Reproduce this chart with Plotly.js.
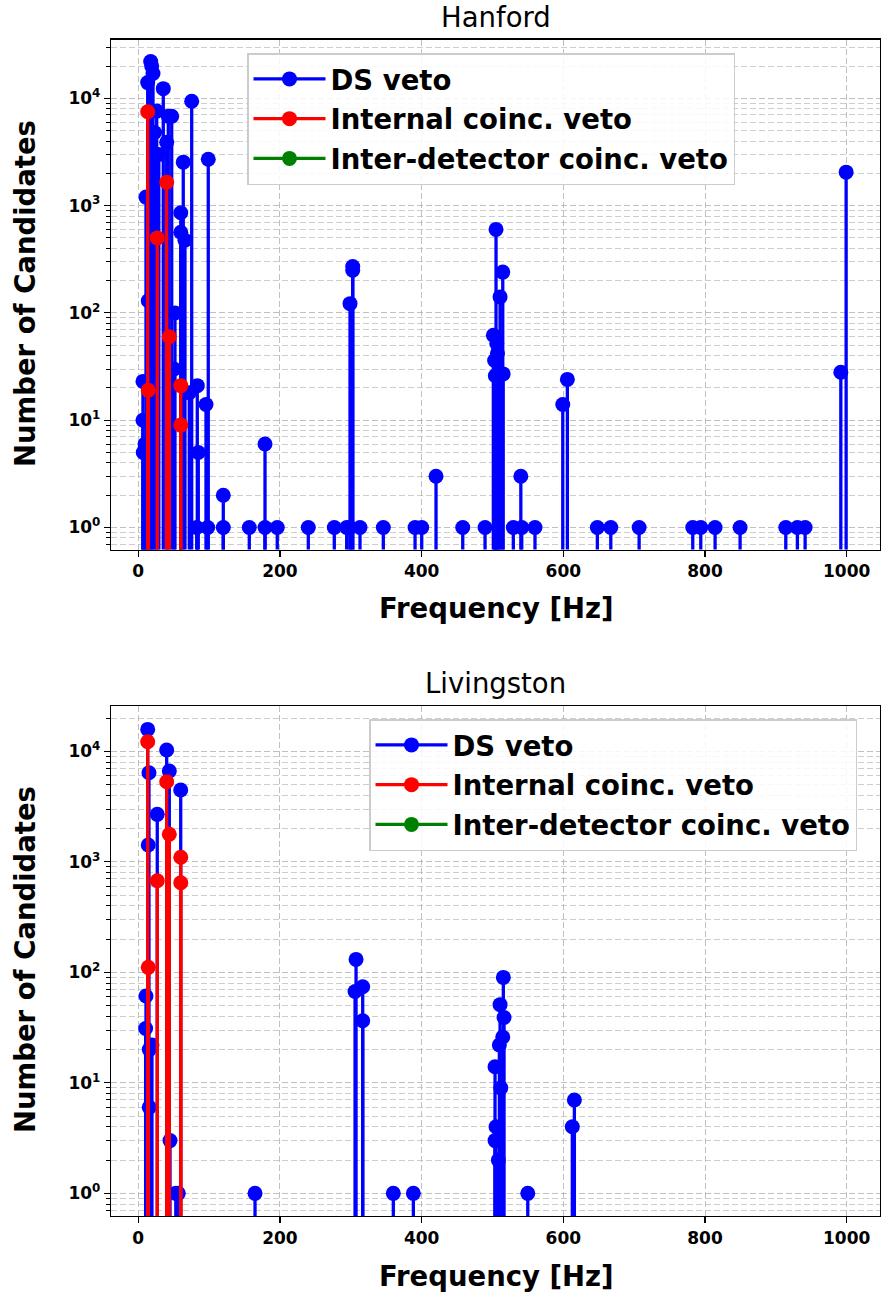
<!DOCTYPE html>
<html><head><meta charset="utf-8">
<script src="https://cdn.plot.ly/plotly-3.0.1.min.js"></script>
<style>html,body{margin:0;padding:0;background:#fff}#chart{width:881px;height:1293px}</style>
</head><body><div id="chart"></div>
<script>
// ---------- data ----------
const seriesNames = ['DS veto', 'Internal coinc. veto', 'Inter-detector coinc. veto'];
const seriesColors = ['blue', 'red', 'green'];
const panelTitles = ['Hanford', 'Livingston'];

const hanfordDsFreq = [6.6, 6.6, 7, 9.5, 10.9, 13.3, 14.1, 17.5, 18.9, 20.8, 23, 26, 29, 35.3, 40.1, 42.4, 47.2, 50.4, 51.8, 60, 60, 63.5, 65.9, 72, 75.4, 82.5, 83.3, 84.7, 95.6, 98, 98.8, 120, 120, 156.7, 178.9, 178.9, 196.2, 240, 276.7, 294.2, 298.9, 298.9, 302.7, 302.7, 313, 345.9, 390.7, 400.1, 420.3, 458, 489.5, 501.2, 503, 504, 505, 506, 507, 509.7, 510.7, 514.5, 515, 529.4, 540, 541.3, 560, 599.2, 605.7, 648, 667, 707, 782.7, 794, 814.2, 849.5, 914, 930.4, 941.3, 991.7, 999.2];
const hanfordDsCount = [23, 10, 5, 6, 1200, 14000, 130, 22000, 20000, 17000, 4800, 7600, 3000, 12300, 3900, 6800, 6800, 30, 100, 857, 565, 2540, 476, 18, 9400, 1, 21, 5, 14, 1, 2700, 2, 1, 1, 6, 1, 1, 1, 1, 1, 122, 1, 270, 250, 1, 1, 1, 1, 3, 1, 1, 62, 36, 26, 600, 52, 42, 27, 141, 240, 27, 1, 3, 1, 1, 14, 24, 1, 1, 1, 1, 1, 1, 1, 1, 1, 1, 28, 2050];
const hanfordIntFreq = [13.3, 14.1, 26.8, 40.1, 43.8, 60, 60];
const hanfordIntCount = [7500, 19, 500, 1650, 60, 21, 9];
const hanfordInterFreq = [];
const hanfordInterCount = [];

const livDsFreq = [10.4, 10.9, 13.3, 14.1, 15.1, 15.5, 15.5, 19.3, 26.8, 40.1, 43.8, 44.8, 53, 56.5, 59.9, 164.8, 306, 307.4, 316.8, 316.8, 360, 388.3, 503.6, 503.6, 505, 508.3, 509.7, 510.7, 511.7, 514.5, 515.3, 516.3, 549.8, 612.7, 615.6];
const livDsCount = [31, 61, 15800, 1420, 6400, 20, 6, 22, 2690, 10280, 6640, 3, 1, 1, 4465, 1, 67, 131, 74, 36.5, 1, 1, 14, 3, 4, 2, 22, 51, 9, 26, 90, 39, 1, 4, 7];
const livIntFreq = [13.3, 14.1, 26.8, 40.1, 43.8, 60, 60];
const livIntCount = [12200, 111, 674, 5310, 1775, 1099, 647];
const livInterFreq = [];
const livInterCount = [];

const xTickVals = [0, 200, 400, 600, 800, 1000];
const yTickVals = [1, 10, 100, 1000, 10000];
const yTickText = ['10<sup>0</sup>', '10<sup>1</sup>', '10<sup>2</sup>', '10<sup>3</sup>', '10<sup>4</sup>'];

// ---------- helpers ----------
const FONT = 'DejaVu Sans';
const BIG = 27.5;
const FLOOR = 0.1; // stems run down below the bottom of the log axis, like matplotlib's stem at 0
const minorVals = [];
for (let d = -1; d <= 4; d++) for (let k = 2; k <= 9; k++) minorVals.push(k * Math.pow(10, d));

function stemTrace(freq, count, idx, xa, ya, legend) {
  const x = [], y = [];
  freq.forEach((f, i) => { x.push(f, f, null); y.push(FLOOR, count[i], null); });
  if (!x.length) { x.push(null); y.push(null); }
  return {
    type: 'scatter', mode: 'lines+markers', x, y, xaxis: xa, yaxis: ya,
    name: seriesNames[idx], legend, legendgroup: legend + idx,
    connectgaps: false, cliponaxis: true,
    line: {color: seriesColors[idx], width: 3.3},
    marker: {color: seriesColors[idx], size: 15, symbol: 'circle'},
    hoverinfo: 'skip'
  };
}

function xAxis(anchor) {
  return {
    domain: [111 / 881, 880 / 881], range: [-38.5, 1047], anchor,
    tickmode: 'array', tickvals: xTickVals,
    ticks: 'outside', ticklen: 6, tickwidth: 1.2, tickcolor: '#000',
    showline: true, mirror: true, linecolor: '#000', linewidth: 1.2,
    showgrid: true, gridcolor: '#b0b0b0', griddash: '6px,3px', gridwidth: 0.8,
    zeroline: false, tickfont: {family: FONT, size: 17, weight: 'bold', color: '#000'}
  };
}
function yAxis(anchor, domain, range) {
  return {
    type: 'log', domain, range, anchor,
    tickmode: 'array', tickvals: yTickVals, ticktext: yTickText,
    ticks: 'outside', ticklen: 6, tickwidth: 1.2, tickcolor: '#000',
    showline: true, mirror: true, linecolor: '#000', linewidth: 1.2,
    showgrid: true, gridcolor: '#b0b0b0', griddash: '6px,3px', gridwidth: 0.8,
    zeroline: false, tickfont: {family: FONT, size: 17, weight: 'bold', color: '#000'},
    minor: {tickmode: 'array', tickvals: minorVals, ticks: 'outside', ticklen: 3.5, tickwidth: 1, tickcolor: '#000',
            showgrid: true, gridcolor: '#c0c0c0', griddash: '6px,3px', gridwidth: 0.8}
  };
}
function legendCfg(x, y) {
  return {
    x, y, xanchor: 'left', yanchor: 'top', xref: 'paper', yref: 'paper',
    bgcolor: 'rgba(255,255,255,0.85)', bordercolor: '#cccccc', borderwidth: 1.5,
    font: {family: FONT, size: BIG, weight: 'bold', color: '#000'},
    traceorder: 'grouped', tracegroupgap: 1, itemwidth: 72
  };
}
function label(text, x, y, size, weight, angle) {
  return {text, x, y, xref: 'paper', yref: 'paper', xanchor: 'center', yanchor: 'middle',
          showarrow: false, textangle: angle || 0, font: {family: FONT, size, weight, color: '#000'}};
}

const data = [
  stemTrace(hanfordDsFreq, hanfordDsCount, 0, 'x', 'y', 'legend'),
  stemTrace(hanfordIntFreq, hanfordIntCount, 1, 'x', 'y', 'legend'),
  stemTrace(hanfordInterFreq, hanfordInterCount, 2, 'x', 'y', 'legend'),
  stemTrace(livDsFreq, livDsCount, 0, 'x2', 'y2', 'legend2'),
  stemTrace(livIntFreq, livIntCount, 1, 'x2', 'y2', 'legend2'),
  stemTrace(livInterFreq, livInterCount, 2, 'x2', 'y2', 'legend2')
];

const layout = {
  width: 881, height: 1293, margin: {l: 0, r: 0, t: 0, b: 0},
  paper_bgcolor: '#fff', plot_bgcolor: '#fff', showlegend: true,
  xaxis: xAxis('y'), yaxis: yAxis('x', [1 - 549.5 / 1293, 1 - 39.5 / 1293], [-0.205, 4.548]),
  xaxis2: xAxis('y2'), yaxis2: yAxis('x2', [1 - 1216 / 1293, 1 - 705.7 / 1293], [-0.205, 4.413]),
  legend: legendCfg(247 / 881, 1 - 53 / 1293),
  legend2: legendCfg(369 / 881, 1 - 719 / 1293),
  annotations: [
    label(panelTitles[0], 495.5 / 881, 1 - 17 / 1293, BIG, 'normal'),
    label('Frequency [Hz]', 496 / 881, 1 - 608 / 1293, BIG, 'bold'),
    label('Number of Candidates', 25 / 881, 1 - 294 / 1293, BIG, 'bold', -90),
    label(panelTitles[1], 495.5 / 881, 1 - 683 / 1293, BIG, 'normal'),
    label('Frequency [Hz]', 496 / 881, 1 - 1276 / 1293, BIG, 'bold'),
    label('Number of Candidates', 25 / 881, 1 - 960 / 1293, BIG, 'bold', -90)
  ]
};

Plotly.newPlot('chart', data, layout, {displayModeBar: false, staticPlot: true});
</script>
</body></html>
